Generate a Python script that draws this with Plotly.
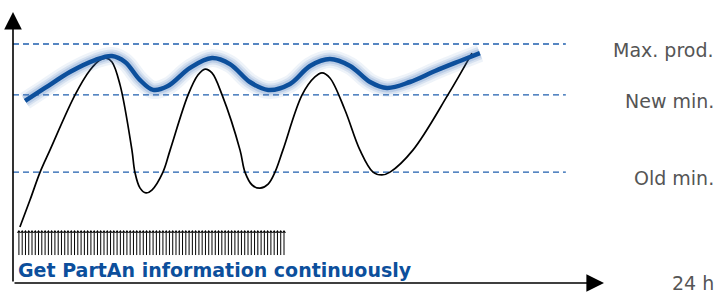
import plotly.graph_objects as go

# ---- data (x in hours, y in % of max production) ----
levels = {"Max. prod.": 100.0, "New min.": 78.7, "Old min.": 46.4}
level_span = [0.0, 22.45]

actual_x = [0.28, 0.69, 1.10, 1.50, 2.52, 3.13, 3.53, 3.78, 4.02, 4.35, 4.83, 4.95, 5.16, 5.40,
            5.64, 6.09, 6.38, 7.11, 7.51, 7.80, 8.08, 8.49, 9.22, 9.42, 9.71, 10.03, 10.36,
            10.64, 10.96, 11.74, 12.26, 12.55, 12.87, 13.48, 14.09, 14.62, 14.98, 15.31,
            16.24, 17.66, 18.64]
actual_y = [23.4, 34.7, 46.4, 55.6, 78.7, 89.1, 93.3, 94.1, 92.5, 82.8, 55.6, 46.4, 39.7, 37.7,
            38.9, 46.4, 55.6, 78.7, 87.0, 89.5, 87.9, 78.7, 55.6, 46.4, 41.0, 39.7, 41.4,
            46.4, 55.6, 78.7, 86.2, 87.9, 85.8, 72.4, 55.6, 46.4, 45.2, 46.4,
            55.6, 78.7, 96.2]

optimized_x = [0.49, 1.30, 2.31, 3.33, 4.02, 4.55, 5.16, 5.69, 6.29, 7.19, 8.08, 8.81, 9.62,
               10.36, 11.25, 12.06, 12.87, 13.69, 14.50, 15.19, 16.12, 17.14, 18.15, 18.96]
optimized_y = [76.2, 81.6, 88.3, 93.3, 95.0, 92.5, 84.9, 80.8, 82.4, 90.0, 94.1, 91.6, 84.1,
               80.8, 83.3, 90.8, 93.7, 90.8, 84.1, 81.6, 84.1, 88.7, 92.9, 96.2]

sample_start, sample_step, sample_count = 0.24, 0.1329, 82
sample_times = [round(sample_start + i * sample_step, 3) for i in range(sample_count)]
sample_low, sample_high = 11.7, 22.6

axis_x_end = 24.0
axis_y_end = 113.4
x_label = "24 h"
caption = "Get PartAn information continuously"

# ---- figure ----
fig = go.Figure()

DASH_COLOR = "#1f5fae"
BLUE = "#0c4f9c"
LABEL_COLOR = "#555555"
LABEL_FONT = "DejaVu Sans"

for name, val in levels.items():
    fig.add_trace(go.Scatter(x=level_span, y=[val, val], mode="lines",
                             line=dict(color=DASH_COLOR, width=1.3, dash="6px,4px"),
                             hoverinfo="skip", showlegend=False))
    fig.add_annotation(x=28.47, y=val, text=name, showarrow=False, xanchor="right",
                       yanchor="middle", yshift=-6, xshift=2,
                       font=dict(family=LABEL_FONT, size=19, color=LABEL_COLOR))

# sampling arrows
shaft_x, shaft_y = [], []
for t in sample_times:
    shaft_x += [t, t, None]
    shaft_y += [sample_low, sample_high - 1.5, None]
fig.add_trace(go.Scatter(x=shaft_x, y=shaft_y, mode="lines",
                         line=dict(color="black", width=1), hoverinfo="skip", showlegend=False))
fig.add_trace(go.Scatter(x=sample_times, y=[sample_high - 1.2] * len(sample_times), mode="markers",
                         marker=dict(symbol="triangle-up", size=3.6, color="black", line=dict(width=0)),
                         hoverinfo="skip", showlegend=False))

# actual production (black)
fig.add_trace(go.Scatter(x=actual_x, y=actual_y, mode="lines", line_shape="spline",
                         line=dict(color="black", width=1.7, smoothing=1.0),
                         hoverinfo="skip", showlegend=False))

# optimized (blue with glow)
for w, a in [(18, 0.09), (13, 0.14), (9, 0.2)]:
    fig.add_trace(go.Scatter(x=optimized_x, y=optimized_y, mode="lines", line_shape="spline",
                             line=dict(color=f"rgba(70,120,190,{a})", width=w, smoothing=1.0),
                             hoverinfo="skip", showlegend=False))
fig.add_trace(go.Scatter(x=optimized_x, y=optimized_y, mode="lines", line_shape="spline",
                         line=dict(color=BLUE, width=4.5, smoothing=1.0),
                         hoverinfo="skip", showlegend=False))

# axes with arrows
fig.add_annotation(x=0, y=axis_y_end, ax=0, ay=0, xref="x", yref="y", axref="x", ayref="y",
                   showarrow=True, arrowhead=2, arrowsize=2.2, arrowwidth=1.6, arrowcolor="black",
                   text="")
fig.add_annotation(x=axis_x_end, y=0, ax=0, ay=0, xref="x", yref="y", axref="x", ayref="y",
                   showarrow=True, arrowhead=2, arrowsize=2.2, arrowwidth=1.6, arrowcolor="black",
                   text="")

fig.add_annotation(x=28.47, y=0, text=x_label, showarrow=False, xanchor="right", yanchor="middle",
                   xshift=2, font=dict(family=LABEL_FONT, size=19, color=LABEL_COLOR))
fig.add_annotation(x=0.2, y=5.4, text=f"<b>{caption}</b>", showarrow=False, xanchor="left",
                   yanchor="middle", xshift=-2,
                   font=dict(family="DejaVu Sans", size=19, color=BLUE))

fig.update_layout(
    width=718, height=293, margin=dict(l=0, r=0, t=0, b=0),
    paper_bgcolor="white", plot_bgcolor="white",
    xaxis=dict(range=[-13 / 24.625, 705 / 24.625], visible=False, fixedrange=True),
    yaxis=dict(range=[-10 / 2.39, 283 / 2.39], visible=False, fixedrange=True),
    showlegend=False,
)

fig.write_html("out.html", config={"displayModeBar": False},
               post_script="document.body.style.margin='0';")
